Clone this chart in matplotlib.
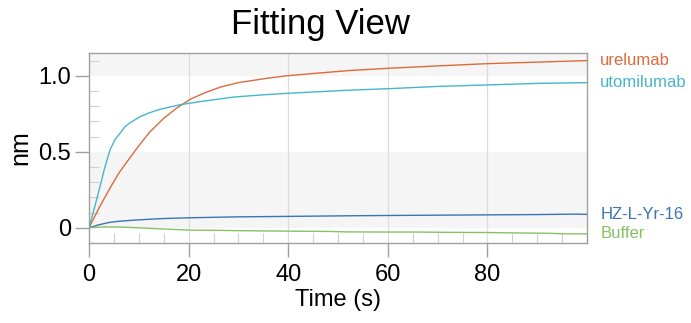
import numpy as np
import matplotlib; matplotlib.use("Agg"); import matplotlib.pyplot as plt
from matplotlib.ticker import MultipleLocator, FixedLocator

plt.rcParams["font.family"] = ["Liberation Sans", "DejaVu Sans"]

# response curves (time in s, response in nm)
t_ure = [0, 2, 4.2, 6, 8.2, 10, 12.2, 15, 17.7, 20.3, 23, 26.3, 30, 33, 36, 39.7, 45, 52.4, 60.4, 70, 80, 90, 100]
v_ure = [0, 0.13, 0.26, 0.36, 0.46, 0.54, 0.63, 0.72, 0.79, 0.845, 0.885, 0.925, 0.955, 0.97, 0.985, 1.0, 1.015, 1.035, 1.05, 1.065, 1.08, 1.09, 1.10]
t_uto = [0, 1, 2.2, 3.2, 4.2, 5.2, 6.2, 7.2, 8.2, 10.2, 12, 14.3, 18.3, 22.3, 29, 35, 40, 52, 60, 70, 80, 90, 100]
v_uto = [0, 0.12, 0.27, 0.40, 0.51, 0.58, 0.62, 0.665, 0.69, 0.73, 0.755, 0.78, 0.81, 0.83, 0.86, 0.875, 0.885, 0.905, 0.915, 0.93, 0.94, 0.95, 0.955]
t_hz = [0, 2, 4.2, 6, 8.9, 12, 14.3, 17, 20.3, 25, 30, 40, 52, 60, 70, 80, 90, 98, 100]
v_hz = [0, 0.02, 0.036, 0.043, 0.05, 0.056, 0.06, 0.063, 0.066, 0.069, 0.072, 0.075, 0.079, 0.081, 0.083, 0.085, 0.087, 0.09, 0.088]
t_buf = [0, 3, 6, 10, 15, 20, 26, 33, 40, 48, 52, 60, 66, 72, 80, 86, 92, 96, 100]
v_buf = [0, 0.006, 0.005, 0.0, -0.008, -0.015, -0.017, -0.02, -0.022, -0.024, -0.027, -0.028, -0.028, -0.03, -0.031, -0.034, -0.036, -0.04, -0.04]

names = ["urelumab", "utomilumab", "HZ-L-Yr-16", "Buffer"]
colors = ["#dc6a3e", "#46b6c8", "#3a74b4", "#86c261"]
series = [(t_ure, v_ure), (t_uto, v_uto), (t_hz, v_hz), (t_buf, v_buf)]

fig = plt.figure(figsize=(6.91, 3.23), dpi=100)
ax = fig.add_axes([0.1288, 0.2477, 0.7207, 0.5882])
ax.set_xlim(0, 100); ax.set_ylim(-0.1, 1.15)

# alternating background bands
ax.axhspan(1.0, 1.5, color="#f5f5f5", lw=0, zorder=0)
ax.axhspan(0.0, 0.5, color="#f5f5f5", lw=0, zorder=0)
for x in (20, 40, 60, 80):
    ax.axvline(x, color="#dcdcdc", lw=0.9, zorder=1)

for (t, v), c, n in zip(series, colors, names):
    ax.plot(t, v, color=c, lw=1.0, zorder=3)
    ax.annotate(n, (t[-1], v[-1]), xytext=(9.5, 0), textcoords="offset points",
                va="center", ha="left", color=c, fontsize=12, annotation_clip=False)

for s in ax.spines.values():
    s.set_color("#a0a0a0"); s.set_linewidth(1.0)

ax.xaxis.set_major_locator(FixedLocator([0, 20, 40, 60, 80]))
ax.xaxis.set_minor_locator(MultipleLocator(5))
ax.yaxis.set_major_locator(FixedLocator([0, 0.5, 1.0]))
ax.set_yticklabels(["0", "0.5", "1.0"])
ax.yaxis.set_minor_locator(MultipleLocator(0.1))
ax.tick_params(which="major", direction="out", length=10, width=1.0, color="#a0a0a0",
               labelsize=17, pad=3)
ax.tick_params(axis="x", which="major", pad=5)
ax.tick_params(which="minor", direction="in", length=7, width=0.8, color="#d0d0d0")

ax.set_xlabel("Time (s)", fontsize=17, labelpad=2)
ax.set_ylabel("nm", fontsize=18, labelpad=4)
fig.text(0.4640, 0.925, "Fitting View", ha="center", va="center", fontsize=25)

fig.savefig("out.png", dpi=100)
